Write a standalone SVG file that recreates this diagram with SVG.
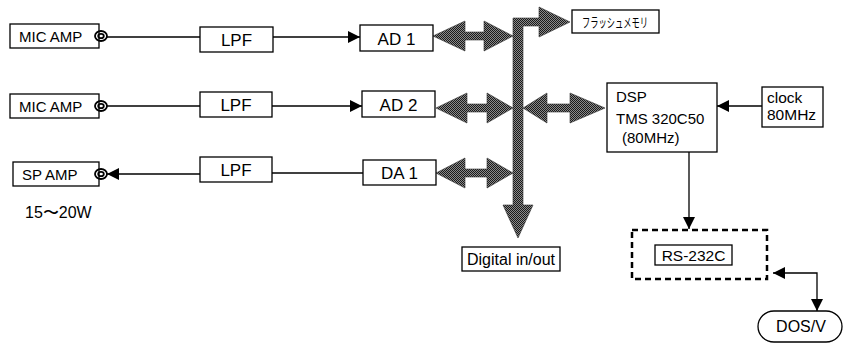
<svg xmlns="http://www.w3.org/2000/svg" width="846" height="350" viewBox="0 0 846 350">
<style>
.box{fill:#fff;stroke:#000;stroke-width:1.3}
.ln{fill:none;stroke:#000;stroke-width:1.3}
.t{font-family:"Liberation Sans",Arial,sans-serif;fill:#000}
.bus{fill:url(#stip);stroke:#333;stroke-width:0.6}
.ring{fill:none;stroke:#000;stroke-width:1.8}
</style>
<defs>
<pattern id="stip" width="2" height="2" patternUnits="userSpaceOnUse">
<rect width="2" height="2" fill="#8a8a8a"/>
<rect width="1" height="1" fill="#1a1a1a"/>
<rect x="1" y="1" width="1" height="1" fill="#1a1a1a"/>
</pattern>
<marker id="ah" viewBox="0 0 10 10" refX="10" refY="5" markerWidth="15" markerHeight="12" markerUnits="userSpaceOnUse" orient="auto-start-reverse">
<path d="M0,0 L10,5 L0,10 z" fill="#000"/>
</marker>
</defs>

<g id="connectors">
<line class="ln" x1="107" y1="37" x2="200" y2="37"/>
<line class="ln" x1="273" y1="37" x2="360" y2="37" marker-end="url(#ah)"/>
<line class="ln" x1="107" y1="106" x2="200" y2="106"/>
<line class="ln" x1="272" y1="106" x2="362" y2="106" marker-end="url(#ah)"/>
<line class="ln" x1="363" y1="173" x2="272" y2="173"/>
<line class="ln" x1="200" y1="174" x2="107" y2="174" marker-end="url(#ah)"/>
<line class="ln" x1="762" y1="106" x2="717" y2="106" marker-end="url(#ah)"/>
<line class="ln" x1="689" y1="152" x2="689" y2="229" marker-end="url(#ah)"/>
<path class="ln" d="M773,273 H817 V311" marker-start="url(#ah)" marker-end="url(#ah)"/>
<polygon class="bus" points="513,18 539,18 539,7 570,22 539,37 539,26 523,26 523,205 533,205 518,238 503,205 513,205"/>
<polygon class="bus" points="433,36 465,21 465,32 484,32 484,21 513,36 484,51 484,40 465,40 465,51"/>
<polygon class="bus" points="436,108 467,93 467,104 487,104 487,93 513,108 487,123 487,112 467,112 467,123"/>
<polygon class="bus" points="523,108 547,93 547,104 570,104 570,93 605,108 570,123 570,112 547,112 547,123"/>
<polygon class="bus" points="436,173 465,158 465,169 487,169 487,158 513,173 487,188 487,177 465,177 465,188"/>
</g>

<g id="micamp1">
<rect class="box" x="10" y="24" width="89" height="24"/>
<text class="t" x="19" y="42" font-size="15">MIC AMP</text>
<ellipse class="ring" cx="101" cy="36" rx="6" ry="5"/>
<ellipse class="ring" cx="101" cy="36" rx="2.8" ry="2.2"/>
</g>
<g id="micamp2">
<rect class="box" x="10" y="94" width="89" height="24"/>
<text class="t" x="19" y="112" font-size="15">MIC AMP</text>
<ellipse class="ring" cx="101" cy="106" rx="6" ry="5"/>
<ellipse class="ring" cx="101" cy="106" rx="2.8" ry="2.2"/>
</g>
<g id="spamp">
<rect class="box" x="13" y="162" width="86" height="24"/>
<text class="t" x="22" y="180" font-size="15">SP AMP</text>
<ellipse class="ring" cx="101" cy="174" rx="6" ry="5"/>
<ellipse class="ring" cx="101" cy="174" rx="2.8" ry="2.2"/>
<text class="t" x="25" y="218" font-size="16" font-family="'Liberation Sans','Noto Sans CJK JP',sans-serif">15〜20W</text>
</g>

<g id="lpf1">
<rect class="box" x="200" y="27" width="73" height="25"/>
<text class="t" x="236.5" y="46" font-size="17" text-anchor="middle">LPF</text>
</g>
<g id="lpf2">
<rect class="box" x="200" y="92" width="72" height="25"/>
<text class="t" x="236" y="111" font-size="17" text-anchor="middle">LPF</text>
</g>
<g id="lpf3">
<rect class="box" x="200" y="157" width="72" height="25"/>
<text class="t" x="236" y="176" font-size="17" text-anchor="middle">LPF</text>
</g>

<g id="ad1">
<rect class="box" x="360" y="25" width="73" height="26"/>
<text class="t" x="396.5" y="44.5" font-size="17" text-anchor="middle">AD 1</text>
</g>
<g id="ad2">
<rect class="box" x="362" y="91" width="73" height="26"/>
<text class="t" x="398.5" y="110.5" font-size="17" text-anchor="middle">AD 2</text>
</g>
<g id="da1">
<rect class="box" x="363" y="160" width="73" height="25"/>
<text class="t" x="399.5" y="179" font-size="17" text-anchor="middle">DA 1</text>
</g>

<g id="flash">
<rect class="box" x="572" y="10" width="87" height="23"/>
<text x="582" y="27" font-size="13" textLength="66" lengthAdjust="spacingAndGlyphs" font-family="'Noto Sans CJK JP',sans-serif">フラッシュメモリ</text>
</g>

<g id="dsp">
<rect class="box" x="607" y="83" width="110" height="69"/>
<text class="t" x="616" y="102" font-size="15">DSP</text>
<text class="t" x="616" y="124" font-size="15">TMS 320C50</text>
<text class="t" x="622" y="143" font-size="15">(80MHz)</text>
</g>

<g id="clock">
<rect class="box" x="762" y="87" width="61" height="40"/>
<text class="t" x="767" y="103" font-size="15.5">clock</text>
<text class="t" x="767" y="120" font-size="15.5">80MHz</text>
</g>

<g id="digital">
<rect class="box" x="462" y="247" width="98" height="24"/>
<text class="t" x="511" y="265" font-size="16" text-anchor="middle">Digital in/out</text>
</g>

<g id="rs232c">
<rect x="632" y="230" width="135" height="49" fill="none" stroke="#000" stroke-width="2.5" stroke-dasharray="6 4"/>
<rect class="box" x="655" y="245" width="77" height="20"/>
<text class="t" x="693.5" y="261" font-size="15.5" text-anchor="middle">RS-232C</text>
</g>

<g id="dosv">
<rect class="box" x="758" y="311" width="84" height="31" rx="16" ry="15.5"/>
<text class="t" x="801" y="332" font-size="16" text-anchor="middle">DOS/V</text>
</g>
</svg>
